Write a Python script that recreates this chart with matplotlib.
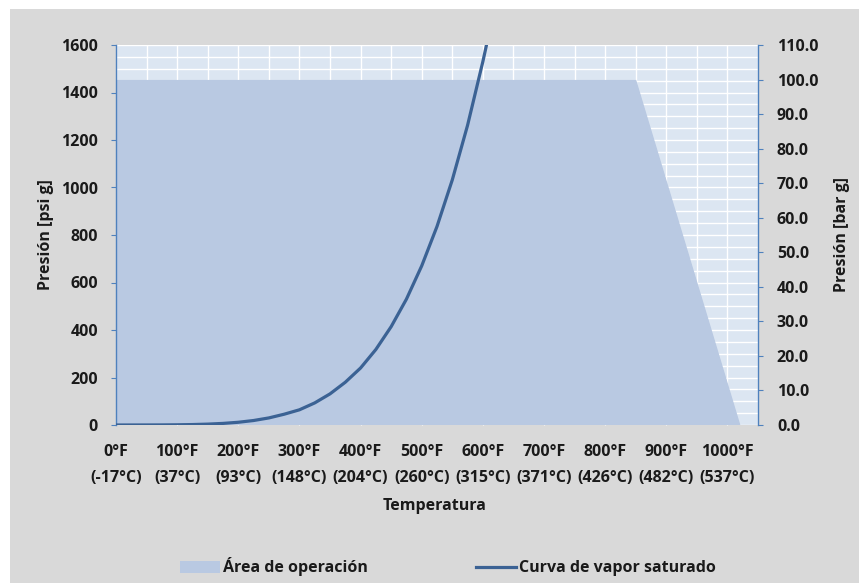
import matplotlib
matplotlib.use("Agg")
import matplotlib.pyplot as plt
from matplotlib.patches import Rectangle, Patch
from matplotlib.lines import Line2D
from matplotlib.ticker import MultipleLocator

plt.rcParams['font.family'] = ['Open Sans', 'DejaVu Sans']

# Data
x_ticks_f = [0, 100, 200, 300, 400, 500, 600, 700, 800, 900, 1000]
x_tick_labels = ["0°F\n(-17°C)", "100°F\n(37°C)", "200°F\n(93°C)", "300°F\n(148°C)",
                 "400°F\n(204°C)", "500°F\n(260°C)", "600°F\n(315°C)", "700°F\n(371°C)",
                 "800°F\n(426°C)", "900°F\n(482°C)", "1000°F\n(537°C)"]
area_T = [0, 0, 850, 1020]
area_P = [0, 1450, 1450, 0]
sat_T = [0, 50, 75, 100, 125, 150, 175, 200, 225, 250, 275, 300, 325, 350, 375,
         400, 425, 450, 475, 500, 525, 550, 575, 600, 610]
sat_P = [0, 0.2, 0.4, 0.9, 1.9, 3.7, 6.7, 11.5, 18.9, 29.8, 45.4, 64, 93, 131, 180,
         240, 318, 414, 530, 670, 836, 1032, 1262, 1530, 1648]
left_ticks = [0, 200, 400, 600, 800, 1000, 1200, 1400, 1600]
right_ticks = [0, 10, 20, 30, 40, 50, 60, 70, 80, 90, 100, 110]

FS = 11.5
TXT = '#1a1a1a'
W, H = 859, 583
fig = plt.figure(figsize=(W/100, H/100), dpi=100, facecolor='white')
fig.patches.append(Rectangle((10/W, 0), 1 - 10/W, 1 - 9/H, transform=fig.transFigure,
                             facecolor='#d9d9d9', edgecolor='none', zorder=-5))

L, R, T, B = 116, 758, 45, 425
ax = fig.add_axes([L/W, 1 - B/H, (R-L)/W, (B-T)/H])
ax.set_facecolor('#dce6f2')
ax.set_xlim(0, 1050)
ax.set_ylim(0, 1600)

spine_col = '#4f81bd'
for s in ['top', 'bottom', 'right']:
    ax.spines[s].set_visible(False)
ax.spines['left'].set_color(spine_col)
ax.spines['left'].set_linewidth(1.0)

ax.xaxis.set_minor_locator(MultipleLocator(50))
ax.yaxis.set_minor_locator(MultipleLocator(50))
ax.grid(which='both', color='white', linewidth=1.0, zorder=0)
ax.set_axisbelow(True)

ax.fill(area_T, area_P, color='#b9c9e2', zorder=2, label='Área de operación')
ax.plot(sat_T, sat_P, color='#3b6294', linewidth=2.3, zorder=3, label='Curva de vapor saturado',
        solid_capstyle='butt', solid_joinstyle='round', clip_on=True)

ax.set_xticks(x_ticks_f)
ax.set_xticklabels(x_tick_labels, fontsize=FS, fontweight='bold', color=TXT, linespacing=1.8)
ax.set_yticks(left_ticks)
ax.set_yticklabels([str(v) for v in left_ticks], fontsize=FS, fontweight='bold', color=TXT)
ax.tick_params(axis='x', which='major', direction='in', length=4, color='white', pad=14)
ax.tick_params(axis='x', which='minor', length=0)
ax.tick_params(axis='y', which='major', direction='out', length=3.6, color=spine_col, pad=9.4)
ax.tick_params(axis='y', which='minor', length=0)

ax2 = ax.twinx()
ax2.set_ylim(0, 110)
for s in ['top', 'bottom', 'left']:
    ax2.spines[s].set_visible(False)
ax2.spines['right'].set_color(spine_col)
ax2.spines['right'].set_linewidth(1.0)
ax2.set_yticks(right_ticks)
ax2.set_yticklabels([f"{v:.1f}" for v in right_ticks], fontsize=FS, fontweight='bold', color=TXT)
ax2.tick_params(axis='y', direction='out', length=3.6, color=spine_col, pad=10)

fig.text(46/W, 1 - 235/H, "Presión [psi g]", rotation=90, ha='center', va='center',
         fontsize=FS, fontweight='bold', color=TXT)
fig.text(842/W, 1 - 235/H, "Presión [bar g]", rotation=90, ha='center', va='center',
         fontsize=FS, fontweight='bold', color=TXT)
fig.text(435/W, 1 - 506/H, "Temperatura", ha='center', va='center',
         fontsize=FS, fontweight='bold', color=TXT)

handles = [Patch(facecolor='#b9c9e2', edgecolor='none'),
           Line2D([0], [0], color='#3b6294', linewidth=2.3)]
leg = fig.legend(handles, ['Área de operación', 'Curva de vapor saturado'],
                 loc='center', bbox_to_anchor=(448/W, 1 - 567/H), ncol=2, frameon=False,
                 prop={'weight': 'bold', 'size': FS}, handlelength=2.5, handletextpad=0.2,
                 columnspacing=6.8, handleheight=0.8)
for t in leg.get_texts():
    t.set_color(TXT)

fig.savefig('out.png', dpi=100, facecolor='white')
